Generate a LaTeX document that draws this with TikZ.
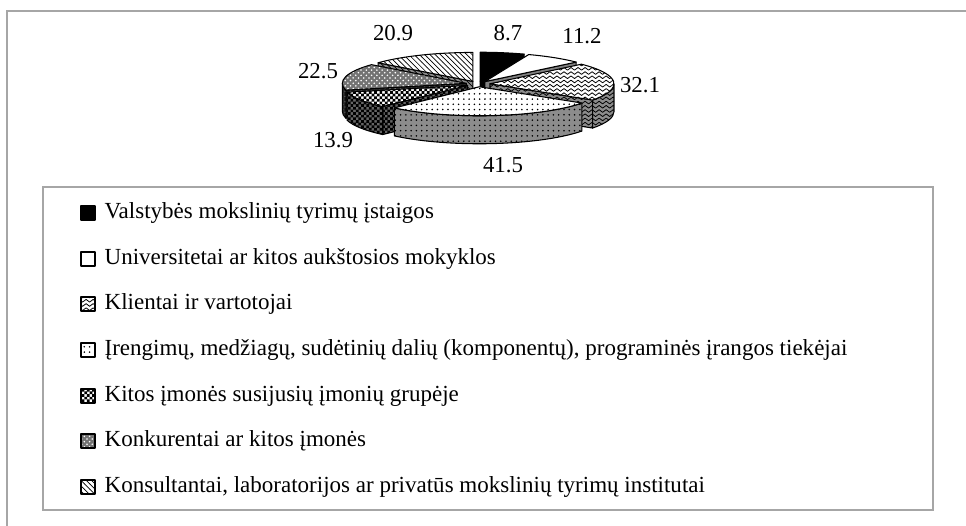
\documentclass[tikz,border=0pt]{standalone}
\usepackage{fontspec}
\setmainfont{Liberation Serif}
\usetikzlibrary{patterns,positioning}

% wavy lines for the Klientai slice
\pgfdeclarepatternformonly{wavelines}{\pgfqpoint{-0.1pt}{-0.1pt}}{\pgfqpoint{4.1pt}{2.4pt}}{\pgfqpoint{4pt}{2.4pt}}{%
  \pgfsetlinewidth{0.45pt}
  \pgfpathmoveto{\pgfqpoint{0pt}{1pt}}
  \pgfpathcurveto{\pgfqpoint{1pt}{2pt}}{\pgfqpoint{1pt}{2pt}}{\pgfqpoint{2pt}{1pt}}
  \pgfpathcurveto{\pgfqpoint{3pt}{0pt}}{\pgfqpoint{3pt}{0pt}}{\pgfqpoint{4pt}{1pt}}
  \pgfusepath{stroke}}
% small squares for the group slice
\pgfdeclarepatternformonly{smallchecker}{\pgfqpoint{-0.05pt}{-0.05pt}}{\pgfqpoint{3.05pt}{3.05pt}}{\pgfqpoint{3pt}{3pt}}{%
  \pgfpathrectangle{\pgfpointorigin}{\pgfqpoint{1.55pt}{1.55pt}}
  \pgfpathrectangle{\pgfqpoint{1.5pt}{1.5pt}}{\pgfqpoint{1.55pt}{1.55pt}}
  \pgfusepath{fill}}

\begin{document}
\begin{tikzpicture}[x=0.02cm,y=0.02cm]
    \tikzstyle{outline}=[draw=black,line width=0.6pt,line join=round]
    \tikzstyle{rim}=[x radius=124,y radius=29]
    \tikzstyle{blackface}=[outline,fill=black]
    \tikzstyle{whiteface}=[outline,fill=white]
    \tikzstyle{wavyface}=[outline,preaction={fill=white},pattern=wavelines]
    \tikzstyle{dotface}=[outline,preaction={fill=white},pattern=dots]
    \tikzstyle{checkface}=[outline,preaction={fill=white},pattern=smallchecker]
    \tikzstyle{greyface}=[outline,preaction={fill=black!55},pattern=crosshatch dots,pattern color=white]
    \tikzstyle{hatchface}=[outline,preaction={fill=white},pattern=north west lines]
    \tikzstyle{blackside}=[outline,fill=black]
    \tikzstyle{whiteside}=[outline,fill=black!50]
    \tikzstyle{wavyside}=[outline,preaction={fill=black!45},pattern=wavelines]
    \tikzstyle{dotside}=[outline,preaction={fill=black!45},pattern=dots]
    \tikzstyle{checkside}=[outline,preaction={fill=black!60},pattern=smallchecker]
    \tikzstyle{greyside}=[outline,preaction={fill=black!85},pattern=crosshatch dots,pattern color=gray]
    \tikzstyle{hatchside}=[outline,preaction={fill=black!45},pattern=north west lines]
    \tikzstyle{frame}=[draw=gray!70,line width=0.8pt]
    \tikzstyle{value}=[inner sep=0pt,font=\fontsize{13}{15}\selectfont]
    \tikzstyle{entry}=[inner sep=0pt,font=\fontsize{13.1}{15}\selectfont]
    \tikzstyle{marker}=[minimum size=0.28cm,inner sep=0pt]

    \useasboundingbox (0,0) rectangle (966,526);
    \draw [frame] (7,0) -- (7,515) -- (966,515);
    \draw [frame] (43,16) rectangle (933,339);

    \coordinate (pc) at (478,442);

    % slices, back to front
    \begin{scope}[shift={(pc)},shift={(79.6:12 and 2.8)}]
        \draw [blackside] (0,0) -- (69.23:124 and 29) -- ++(0,-28) -- (0,-28) -- cycle;
        \draw [blackface] (0,0) -- (90:124 and 29) arc[rim,start angle=90,end angle=69.23] -- cycle;
    \end{scope}
    \begin{scope}[shift={(pc)},shift={(114.94:12 and 2.8)}]
        \draw [hatchside] (0,0) -- (139.89:124 and 29) -- ++(0,-28) -- (0,-28) -- cycle;
        \draw [hatchface] (0,0) -- (139.89:124 and 29) arc[rim,start angle=139.89,end angle=90] -- cycle;
    \end{scope}
    \begin{scope}[shift={(pc)},shift={(55.86:12 and 2.8)}]
        \draw [whiteside] (0,0) -- (42.49:124 and 29) -- ++(0,-28) -- (0,-28) -- cycle;
        \draw [whiteface] (0,0) -- (69.23:124 and 29) arc[rim,start angle=69.23,end angle=42.49] -- cycle;
    \end{scope}
    \begin{scope}[shift={(pc)},shift={(166.74:12 and 2.8)}]
        \draw [greyside] (0,0) -- (193.6:124 and 29) -- ++(0,-28) -- (0,-28) -- cycle;
        \draw [greyside] (193.6:124 and 29) arc[rim,start angle=193.6,end angle=180] -- ++(0,-28) arc[rim,start angle=180,end angle=193.6] -- cycle;
        \draw [greyface] (0,0) -- (193.6:124 and 29) arc[rim,start angle=193.6,end angle=139.89] -- cycle;
    \end{scope}
    \begin{scope}[shift={(pc)},shift={(4.17:12 and 2.8)}]
        \draw [wavyside] (0,0) -- (-34.14:124 and 29) -- ++(0,-28) -- (0,-28) -- cycle;
        \draw [wavyside] (0:124 and 29) arc[rim,start angle=0,end angle=-34.14] -- ++(0,-28) arc[rim,start angle=-34.14,end angle=0] -- cycle;
        \draw [wavyface] (0,0) -- (42.49:124 and 29) arc[rim,start angle=42.49,end angle=-34.14] -- cycle;
    \end{scope}
    \begin{scope}[shift={(pc)},shift={(-149.8:12 and 2.8)}]
        \draw [checkside] (0,0) -- (-133.21:124 and 29) -- ++(0,-28) -- (0,-28) -- cycle;
        \draw [checkside] (-133.21:124 and 29) arc[rim,start angle=-133.21,end angle=-166.4] -- ++(0,-28) arc[rim,start angle=-166.4,end angle=-133.21] -- cycle;
        \draw [checkface] (0,0) -- (-133.21:124 and 29) arc[rim,start angle=-133.21,end angle=-166.4] -- cycle;
    \end{scope}
    \begin{scope}[shift={(pc)},shift={(-83.67:12 and 2.8)}]
        \draw [dotside] (-34.14:124 and 29) arc[rim,start angle=-34.14,end angle=-133.21] -- ++(0,-28) arc[rim,start angle=-133.21,end angle=-34.14] -- cycle;
        \draw [dotface] (0,0) -- (-34.14:124 and 29) arc[rim,start angle=-34.14,end angle=-133.21] -- cycle;
    \end{scope}

    % values
    \node (v87) at (508,493) [value] {8.7};
    \node (v112) at (582,490) [value] {11.2};
    \node (v321) at (640,441) [value] {32.1};
    \node (v415) at (503,361) [value] {41.5};
    \node (v139) at (333,386) [value] {13.9};
    \node (v225) at (318,455) [value] {22.5};
    \node (v209) at (393,493) [value] {20.9};

    % legend
    \node (m1) at (88,313) [marker,blackface] {};
    \node (m2) at (88,267) [marker,whiteface] {};
    \node (m3) at (88,222) [marker,wavyface] {};
    \node (m4) at (88,176) [marker,dotface] {};
    \node (m5) at (88,130) [marker,checkface] {};
    \node (m6) at (88,85) [marker,greyface] {};
    \node (m7) at (88,39) [marker,hatchface] {};

    \node (l1) [entry,right=5pt of m1] {Valstybės mokslinių tyrimų įstaigos};
    \node (l2) [entry,right=5pt of m2] {Universitetai ar kitos aukštosios mokyklos};
    \node (l3) [entry,right=5pt of m3] {Klientai ir vartotojai};
    \node (l4) [entry,right=5pt of m4] {Įrengimų, medžiagų, sudėtinių dalių (komponentų), programinės įrangos tiekėjai};
    \node (l5) [entry,right=5pt of m5] {Kitos įmonės susijusių įmonių grupėje};
    \node (l6) [entry,right=5pt of m6] {Konkurentai ar kitos įmonės};
    \node (l7) [entry,right=5pt of m7] {Konsultantai, laboratorijos ar privatūs mokslinių tyrimų institutai};
\end{tikzpicture}
\end{document}
